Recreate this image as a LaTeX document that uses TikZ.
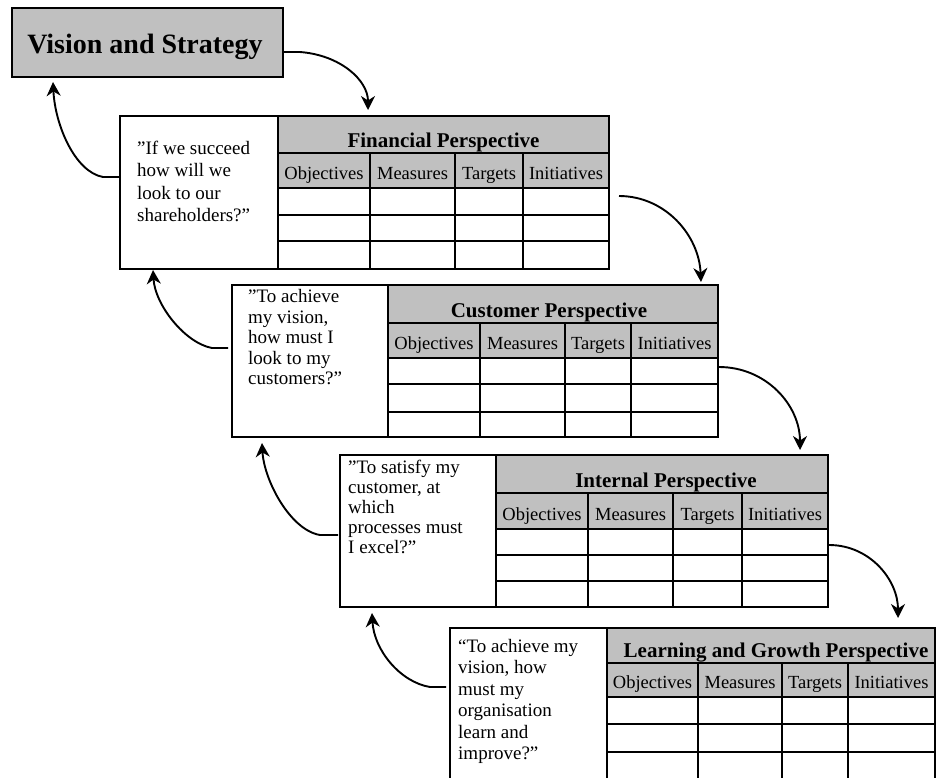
\documentclass[tikz,border=0pt]{standalone}
\usepackage{fontspec}
\setmainfont{Liberation Serif}
\usetikzlibrary{arrows.meta}
\definecolor{panelgray}{HTML}{C0C0C0}

% geometry of one perspective panel (all values in pt, y grows downward)
\pgfkeys{/bsc/.is family, /bsc,
  L/.store in=\bL, T/.store in=\bT, D/.store in=\bD, R/.store in=\bR,
  H/.store in=\bH, C/.store in=\bC, ra/.store in=\bRa, rb/.store in=\bRb, B/.store in=\bB,
  ca/.store in=\bCa, cb/.store in=\bCb, cc/.store in=\bCc,
  qx/.store in=\bQx, qy/.store in=\bQy, qs/.store in=\bQs, tx/.store in=\bTx}

% #1 name, #2 geometry keys, #3 title, #4 question lines
\newcommand\bscpanel[4]{%
  \pgfkeys{/bsc,#2}%
  \pgfmathsetmacro\bWq{\bD-\bL}\pgfmathsetmacro\bHq{\bB-\bT}%
  \pgfmathsetmacro\bWh{\bR-\bD}\pgfmathsetmacro\bHh{\bH-\bT}%
  \pgfmathsetmacro\bHc{\bC-\bH}%
  \node[qbox, minimum width=\bWq pt, minimum height=\bHq pt] (#1-q) at (\bL,\bT) {};
  \node[hbox, minimum width=\bWh pt, minimum height=\bHh pt] (#1-h) at (\bD,\bT) {};
  \node[htext] (#1-t) at (\bTx,{\bH-5.5}) {#3};
  \foreach \xa/\xb/\lab [count=\k] in {\bD/\bCa/Objectives,\bCa/\bCb/Measures,\bCb/\bCc/Targets,\bCc/\bR/Initiatives}{
    \pgfmathsetmacro\bWc{\xb-\xa}
    \node[hbox, minimum width=\bWc pt, minimum height=\bHc pt] (#1-c\k) at (\xa,\bH) {};
    \node[ctext] (#1-cl\k) at ({(\xa+\xb)/2},{\bC-9}) {\lab};
  }
  \draw[grid] (\bD,\bRa) -- (\bR,\bRa) (\bD,\bRb) -- (\bR,\bRb);
  \draw[grid] (\bCa,\bC) -- (\bCa,\bB) (\bCb,\bC) -- (\bCb,\bB) (\bCc,\bC) -- (\bCc,\bB)
              (\bR,\bC) -- (\bR,\bB) -- (\bD,\bB);
  \foreach \t [count=\i] in {#4}
    \node[qtext] (#1-l\i) at (\bQx,{\bQy+(\i-1)*\bQs}) {\t};
}

\begin{document}
\begin{tikzpicture}[x=1pt, y=-1pt,
  grid/.style={line width=1.7pt},
  qbox/.style={draw, line width=1.7pt, fill=white, inner sep=0pt, outer sep=0pt, anchor=north west},
  hbox/.style={qbox, fill=panelgray},
  qtext/.style={anchor=base west, inner sep=0pt, font=\fontsize{19}{19}\selectfont},
  htext/.style={anchor=base, inner sep=0pt, font=\bfseries\fontsize{21}{21}\selectfont},
  ctext/.style={anchor=base, inner sep=0pt, font=\fontsize{18.5}{18.5}\selectfont},
  flow/.style={line width=1.9pt, -{Stealth[length=14pt, width=14pt, inset=4.5pt]}}]
\useasboundingbox (0,0) rectangle (937,777);

% top box
\node[hbox, minimum width=271pt, minimum height=69pt] (vs) at (12,8) {};
\node[anchor=base, inner sep=0pt, font=\bfseries\fontsize{28}{28}\selectfont] (vs-t) at (145,53) {Vision and Strategy};

% the four perspectives
\bscpanel{fin}{L=120,T=116,D=278,R=609,H=153,C=188,ra=215,rb=241,B=269,
  ca=370,cb=455,cc=523,qx=137,qy=154,qs=22.5,tx=443.5}{Financial Perspective}
  {”If we succeed,how will we,look to our,shareholders?”}
\bscpanel{cus}{L=232,T=285,D=388,R=718,H=323,C=358,ra=384,rb=412,B=437,
  ca=480,cb=565,cc=631,qx=248,qy=302.5,qs=20.5,tx=549}{Customer Perspective}
  {”To achieve,{my vision,},how must I,look to my,customers?”}
\bscpanel{int}{L=340,T=455,D=496,R=828,H=493,C=529,ra=555,rb=581,B=607,
  ca=588,cb=673,cc=742,qx=348,qy=473,qs=20,tx=666}{Internal Perspective}
  {”To satisfy my,{customer, at},which,processes must,I excel?”}
\bscpanel{lrn}{L=450,T=628,D=607,R=935,H=663,C=697,ra=724,rb=752,B=781,
  ca=698,cb=782,cc=848,qx=458,qy=652,qs=21.5,tx=776}{Learning and Growth Perspective}
  {“To achieve my,{vision, how},must my,organisation,learn and,improve?”}

% cause-and-effect chain going down
\draw[flow] ([yshift=-9.5pt]vs.east) -- ++(17,0) .. controls +(40,3) and +(0,-30) .. ([xshift=90pt,yshift=6pt]fin-h.north west);
\draw[flow] ([xshift=10pt,yshift=-8pt]fin-c4.south east) .. controls +(46,0) and +(-2,-47) .. ([xshift=313pt,yshift=3pt]cus-h.north west);
\draw[flow] ([xshift=1pt,yshift=-9pt]cus-c4.south east) .. controls +(47,0) and +(0,-45) .. ([xshift=304pt,yshift=5pt]int-h.north west);
\draw[flow] ([xshift=1pt,yshift=-16pt]int-c4.south east) .. controls +(41,0) and +(0,-38) .. ([xshift=291pt,yshift=10pt]lrn-h.north west);

% feedback going back up
\draw[flow] ([yshift=15.5pt]fin-q.west) -- ++(-17,0) .. controls +(-28,-5) and +(2,43) .. ([xshift=41pt,yshift=-5pt]vs.south west);
\draw[flow] ([xshift=-4pt,yshift=13pt]cus-q.west) -- ++(-16,0) .. controls +(-27,-5) and +(2,35) .. ([xshift=33pt,yshift=-1pt]fin-q.south west);
\draw[flow] ([xshift=-2pt,yshift=-4pt]int-q.west) -- ++(-18,0) .. controls +(-30,-5) and +(2,37) .. ([xshift=30pt,yshift=-6pt]cus-q.south west);
\draw[flow] ([xshift=-4pt,yshift=17.5pt]lrn-q.west) -- ++(-16,0) .. controls +(-30,-5) and +(2,37) .. ([xshift=32pt,yshift=-6pt]int-q.south west);
\end{tikzpicture}
\end{document}
